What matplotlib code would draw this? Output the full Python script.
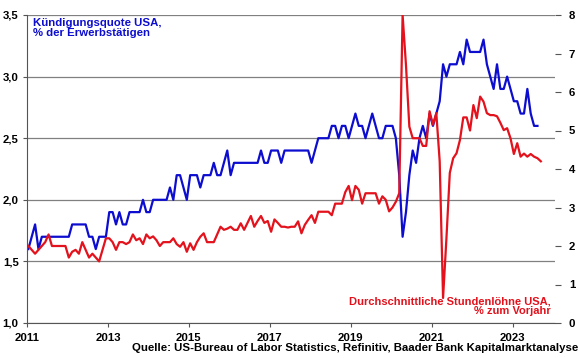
import matplotlib.pyplot as plt

plt.rcParams['font.family'] = ['Liberation Sans', 'DejaVu Sans']
plt.rcParams['font.weight'] = 'bold'

# Kündigungsquote USA, monatlich ab Jan 2011 (linke Achse)
kuendigungsquote = [
    1.6, 1.7, 1.8, 1.6, 1.7, 1.7, 1.7, 1.7, 1.7, 1.7, 1.7, 1.7,
    1.7, 1.8, 1.8, 1.8, 1.8, 1.8, 1.7, 1.7, 1.6, 1.7, 1.7, 1.7,
    1.9, 1.9, 1.8, 1.9, 1.8, 1.8, 1.9, 1.9, 1.9, 1.9, 2.0, 1.9,
    1.9, 2.0, 2.0, 2.0, 2.0, 2.0, 2.1, 2.0, 2.2, 2.2, 2.1, 2.0,
    2.2, 2.2, 2.2, 2.1, 2.2, 2.2, 2.2, 2.3, 2.2, 2.2, 2.3, 2.4,
    2.2, 2.3, 2.3, 2.3, 2.3, 2.3, 2.3, 2.3, 2.3, 2.4, 2.3, 2.3,
    2.4, 2.4, 2.4, 2.3, 2.4, 2.4, 2.4, 2.4, 2.4, 2.4, 2.4, 2.4,
    2.3, 2.4, 2.5, 2.5, 2.5, 2.5, 2.6, 2.6, 2.5, 2.6, 2.6, 2.5,
    2.6, 2.7, 2.6, 2.6, 2.5, 2.6, 2.7, 2.6, 2.5, 2.5, 2.6, 2.6,
    2.6, 2.5, 2.2, 1.7, 1.9, 2.2, 2.4, 2.3, 2.5, 2.6, 2.5, 2.7,
    2.6, 2.7, 2.8, 3.1, 3.0, 3.1, 3.1, 3.1, 3.2, 3.1, 3.3, 3.2,
    3.2, 3.2, 3.2, 3.3, 3.1, 3.0, 2.9, 3.1, 2.9, 2.9, 3.0, 2.9,
    2.8, 2.8, 2.7, 2.7, 2.9, 2.7, 2.6, 2.6,
]

# Durchschnittliche Stundenlöhne USA, % zum Vorjahr (rechte Achse)
stundenloehne = [
    2.0, 1.9, 1.8, 1.9, 2.0, 2.1, 2.3, 2.0, 2.0, 2.0, 2.0, 2.0,
    1.7, 1.85, 1.9, 1.8, 2.1, 1.9, 1.7, 1.8, 1.7, 1.6, 1.9, 2.2,
    2.2, 2.1, 1.9, 2.1, 2.1, 2.05, 2.1, 2.3, 2.15, 2.2, 2.05, 2.3,
    2.2, 2.25, 2.15, 2.0, 2.1, 2.1, 2.1, 2.2, 2.05, 1.98, 2.1, 1.85,
    2.07, 1.9, 2.1, 2.24, 2.33, 2.1, 2.1, 2.1, 2.3, 2.5, 2.42, 2.45,
    2.5, 2.42, 2.42, 2.59, 2.42, 2.6, 2.78, 2.5, 2.65, 2.78, 2.6, 2.65,
    2.37, 2.69, 2.6, 2.5, 2.5, 2.48, 2.5, 2.5, 2.64, 2.33, 2.55, 2.68,
    2.8, 2.6, 2.89, 2.89, 2.89, 2.89, 2.8, 3.1, 3.1, 3.1, 3.4, 3.56,
    3.19, 3.56, 3.46, 3.1, 3.37, 3.37, 3.37, 3.37, 3.1, 3.29, 3.2, 2.9,
    3.0, 3.15, 3.37, 8.0, 6.7, 5.1, 4.8, 4.8, 4.8, 4.6, 4.6, 5.5,
    5.15, 5.45, 4.2, 0.65, 2.2, 3.9, 4.28, 4.41, 4.75, 5.34, 5.34, 5.0,
    5.66, 5.32, 5.88, 5.75, 5.45, 5.4, 5.4, 5.37, 5.2, 5.01, 5.06, 4.8,
    4.39, 4.67, 4.32, 4.4, 4.32, 4.39, 4.32, 4.28, 4.2,
]

jahre = [2011, 2013, 2015, 2017, 2019, 2021, 2023]
ticks_links = [1.0, 1.5, 2.0, 2.5, 3.0, 3.5]
ticks_rechts = [0, 1, 2, 3, 4, 5, 6, 7, 8]

x_quote = [2011 + (i + 0.4) / 12 for i in range(len(kuendigungsquote))]
x_lohn = [2011 + (i + 0.4) / 12 for i in range(len(stundenloehne))]

blau = '#0d0dd0'
rot = '#e3121c'
grau = '#808080'
dunkel = '#555555'

fig = plt.figure(figsize=(5.8, 3.58), dpi=100)
ax = fig.add_axes([27 / 580, 1 - 323 / 358, 528 / 580, 308 / 358])
ax2 = ax.twinx()

ax.plot(x_quote, kuendigungsquote, color=blau, lw=1.6)
ax2.plot(x_lohn, stundenloehne, color=rot, lw=1.6)

ax.set_xlim(2011, 2024.05)
ax.set_ylim(1.0, 3.5)
ax2.set_ylim(0, 8)

ax.set_xticks(jahre)
ax.set_xticklabels([str(j) for j in jahre])
ax.set_yticks(ticks_links)
ax.set_yticklabels([f'{v:.1f}'.replace('.', ',') for v in ticks_links])
ax2.set_yticks(ticks_rechts)
ax2.set_yticklabels([str(v) for v in ticks_rechts])

ax.grid(axis='y', color=grau, lw=0.9)
ax.set_axisbelow(True)

for s in ['top', 'right']:
    ax.spines[s].set_visible(False)
for s in ax2.spines:
    ax2.spines[s].set_visible(False)
ax.spines['left'].set_color(dunkel)
ax.spines['bottom'].set_color(dunkel)

ax.tick_params(axis='y', length=3, color=dunkel, labelsize=8.2, pad=3)
ax.tick_params(axis='x', length=3, color=dunkel, labelsize=8.2, pad=4)
ax2.tick_params(axis='y', length=4, color=dunkel, labelsize=8.2, pad=6)

fig.text(33 / 580, 1 - 18 / 358, 'Kündigungsquote USA,\n% der Erwerbstätigen',
         ha='left', va='top', color=blau, fontsize=8.2, linespacing=1.05)
fig.text(551 / 580, 1 - 296 / 358, 'Durchschnittliche Stundenlöhne USA,\n% zum Vorjahr',
         ha='right', va='top', color=rot, fontsize=8, linespacing=1.05,
         multialignment='right')
fig.text(578 / 580, 1 - 348 / 358,
         'Quelle: US-Bureau of Labor Statistics, Refinitiv, Baader Bank Kapitalmarktanalyse',
         ha='right', va='center', color='black', fontsize=8.2)

fig.savefig('out.png', dpi=100)
